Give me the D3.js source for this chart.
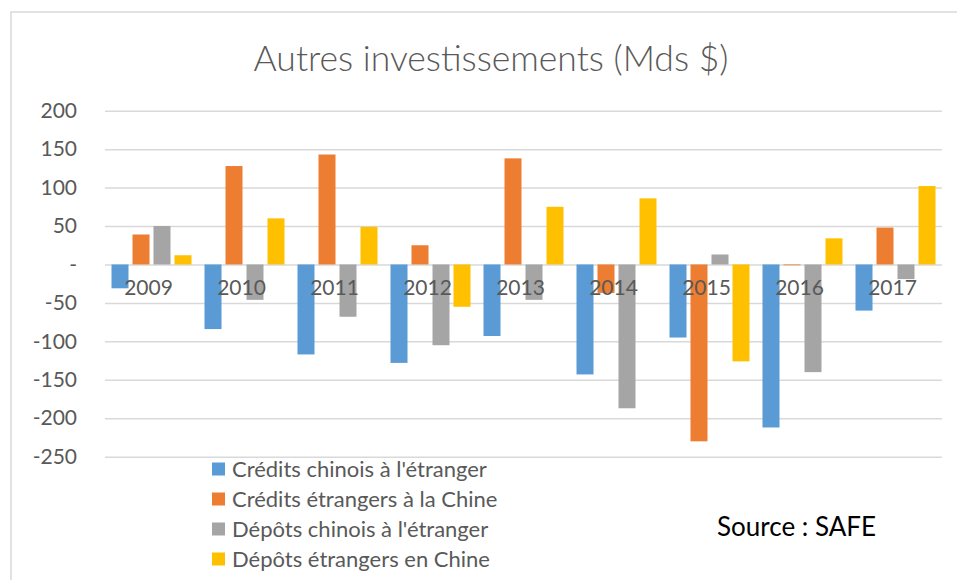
<!DOCTYPE html>
<html>
<head>
<meta charset="utf-8">
<script src="https://cdn.jsdelivr.net/npm/d3@7"></script>
<style>
  body { margin: 0; background: #fff; }
  text { font-family: Lato, "Open Sans", sans-serif; }
</style>
</head>
<body>
<script>
//-----------------Data----------------

const years = ["2009", "2010", "2011", "2012", "2013", "2014", "2015", "2016", "2017"];
const seriesNames = [
  "Crédits chinois à l'étranger",
  "Crédits étrangers à la Chine",
  "Dépôts chinois à l'étranger",
  "Dépôts étrangers en Chine"
];
const creditsChinois = [-31, -84, -117, -128, -93, -143, -95, -212, -60];
const creditsEtrangers = [39, 128, 143, 25, 138, -37, -230, -1, 48];
const depotsChinois = [50, -46, -68, -105, -46, -187, 13, -140, -19];
const depotsEtrangers = [12, 60, 49, -55, 75, 86, -126, 34, 102];
const yTicks = [200, 150, 100, 50, 0, -50, -100, -150, -200, -250];

const colors = ["#5B9BD5", "#ED7D31", "#A5A5A5", "#FFC000"];
const allSeries = [creditsChinois, creditsEtrangers, depotsChinois, depotsEtrangers];

//-----------------Svg----------------

const width = 957;
const height = 580;
const plotLeft = 105, plotRight = 942, plotTop = 110.7, plotBottom = 456.7;
const textColor = "#595959";
const gridColor = "#d9d9d9";

const svg = d3.select("body").append("svg").attr("width", width).attr("height", height);

// chart area frame (runs off the right and bottom edge)
svg.append("rect")
  .attr("x", 11).attr("y", 12)
  .attr("width", 1000).attr("height", 1000)
  .attr("fill", "#fff")
  .attr("stroke", gridColor)
  .attr("stroke-width", 1.5);

//---------------Scales---------------------

const x0 = d3.scaleBand().domain(years).range([plotLeft, plotRight]).padding(0);
const x1 = d3.scaleBand().domain(d3.range(4)).range([6.5, 86.5]).paddingInner(4 / 21).paddingOuter(0);
const y = d3.scaleLinear().domain([-250, 200]).range([plotBottom, plotTop]);

//----------------Title-----------------

svg.append("text")
  .attr("x", 491)
  .attr("y", 71)
  .attr("text-anchor", "middle")
  .attr("fill", textColor)
  .style("font-size", "35.5px")
  .style("font-weight", 300)
  .text("Autres investissements (Mds $)");

//-------------Grid + y axis----------------

const yAxis = d3.axisLeft(y)
  .tickValues(yTicks)
  .tickSize(-(plotRight - plotLeft))
  .tickPadding(28)
  .tickFormat((d) => (d === 0 ? "-" : d));

const gy = svg.append("g")
  .attr("id", "y-axis")
  .attr("transform", "translate(" + plotLeft + ",0)")
  .call(yAxis);
gy.select(".domain").remove();
gy.selectAll("line").attr("stroke", gridColor).attr("stroke-width", 1.5);
gy.selectAll("text")
  .attr("fill", textColor)
  .style("font-size", "21px");

//-------------Bars----------------

const groups = svg.selectAll("g.year")
  .data(years)
  .enter()
  .append("g")
  .attr("class", "year")
  .attr("transform", (d) => "translate(" + x0(d) + ",0)");

groups.selectAll("rect")
  .data((d, i) => allSeries.map((s, k) => ({ k: k, v: s[i] })))
  .enter()
  .append("rect")
  .attr("x", (d) => x1(d.k))
  .attr("width", x1.bandwidth())
  .attr("y", (d) => y(Math.max(0, d.v)))
  .attr("height", (d) => Math.abs(y(d.v) - y(0)))
  .attr("fill", (d) => colors[d.k]);

//-------------Category labels (drawn over bars)----------------

const xAxis = d3.axisBottom(x0).tickSize(0).tickPadding(16);
const gx = svg.append("g")
  .attr("id", "x-axis")
  .attr("transform", "translate(-3," + y(0) + ")")
  .call(xAxis);
gx.select(".domain").remove();
gx.selectAll("text")
  .attr("fill", textColor)
  .style("font-size", "21px");

//-----------Legend--------------

const legend = svg.append("g").attr("id", "legend");
const rows = legend.selectAll("g")
  .data(seriesNames)
  .enter()
  .append("g")
  .attr("transform", (d, i) => "translate(212," + (469 + i * 30) + ")");

rows.append("rect")
  .attr("x", 0).attr("y", -6.5)
  .attr("width", 13).attr("height", 13)
  .attr("fill", (d, i) => colors[i]);

rows.append("text")
  .attr("x", 20)
  .attr("y", 8)
  .attr("fill", textColor)
  .style("font-size", "22px")
  .text((d) => d);

//------------Source--------------

svg.append("text")
  .attr("x", 717)
  .attr("y", 536)
  .attr("fill", "#000")
  .style("font-size", "26px")
  .text("Source : SAFE");
</script>
</body>
</html>
